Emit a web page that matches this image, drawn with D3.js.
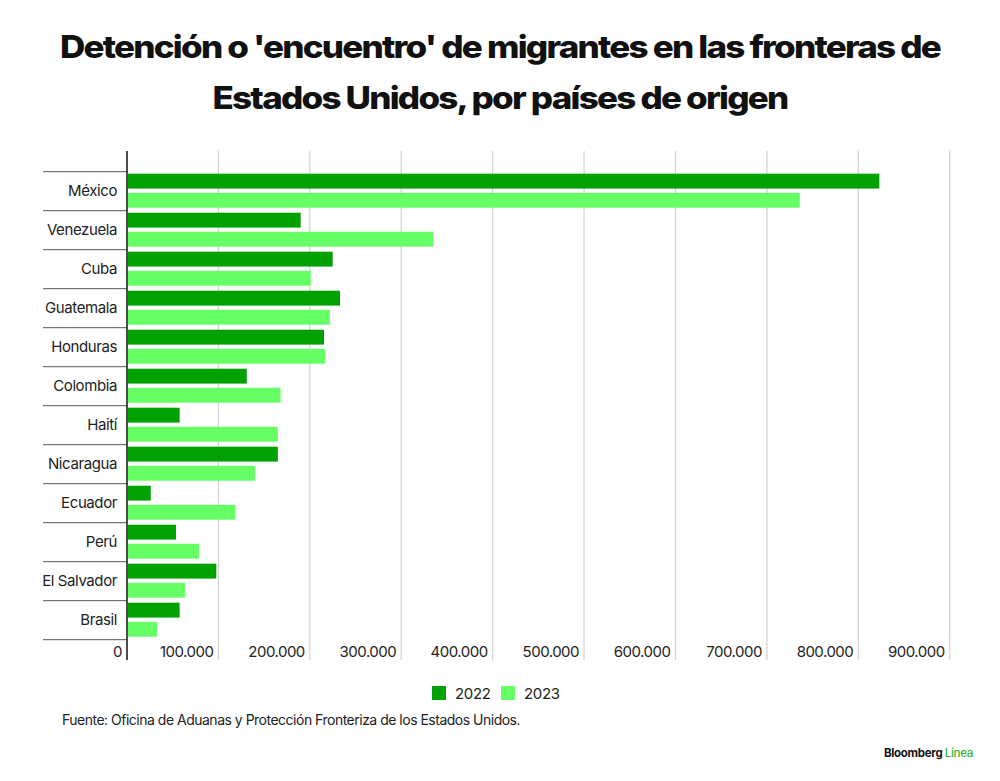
<!DOCTYPE html>
<html><head><meta charset="utf-8">
<script src="https://cdn.jsdelivr.net/npm/d3@7"></script>
<style>
html,body{margin:0;padding:0;background:#fff;}
svg{display:block;font-family:Inter,"Liberation Sans",sans-serif;}
</style></head>
<body>
<svg id="chart" width="1000" height="781"></svg>
<script>
const titleLines = ["Detención o 'encuentro' de migrantes en las fronteras de", "Estados Unidos, por países de origen"];
const categories = ["México","Venezuela","Cuba","Guatemala","Honduras","Colombia","Haití","Nicaragua","Ecuador","Perú","El Salvador","Brasil"];
const values2022 = [823000,190000,225000,233000,215500,131000,57600,165000,26000,53600,97700,57600];
const values2023 = [736000,335000,201000,222000,216600,168000,165000,140000,118500,78800,63500,32800];
const seriesNames = ["2022","2023"];
const tickValues = [0,100000,200000,300000,400000,500000,600000,700000,800000,900000];
const sourceText = "Fuente: Oficina de Aduanas y Protección Fronteriza de los Estados Unidos.";

const colors = ["#02a102","#66ff66"];
const svg = d3.select("#chart");

// title
svg.selectAll("text.title").data(titleLines).join("text")
  .attr("class","title")
  .attr("x",500).attr("y",(d,i)=>58+i*51)
  .attr("text-anchor","middle")
  .attr("font-size",31.5).attr("font-weight",800)
  .attr("letter-spacing","-1.6")
  .attr("fill","#111")
  .attr("textLength",(d,i)=>i===0?880:575)
  .attr("lengthAdjust","spacingAndGlyphs")
  .text(d=>d);

const x0 = 127;
const x = d3.scaleLinear().domain([0,900000]).range([x0, 949.7]);
const y = d3.scaleBand().domain(categories).range([171.7, 639.7]).paddingInner(0).paddingOuter(0);
const ySub = d3.scaleBand().domain(seriesNames).range([2, y.bandwidth()-3]).paddingInner(0.22);

// gridlines
svg.append("g").selectAll("line").data(tickValues.slice(1)).join("line")
  .attr("x1",d=>x(d)).attr("x2",d=>x(d))
  .attr("y1",151).attr("y2",660)
  .attr("stroke","#d4d4d4").attr("stroke-width",1.3);

// tick labels
svg.append("g").selectAll("text").data(tickValues).join("text")
  .attr("x",d=>x(d)-5).attr("y",657)
  .attr("text-anchor","end")
  .attr("font-size",15).attr("fill","#222")
  .attr("letter-spacing","-0.5")
  .text(d=>d3.format(",")(d).replace(/,/g,"."));

// category separators
const seps = categories.map(c=>y(c)).concat([y.range()[1]]);
svg.append("g").selectAll("line").data(seps).join("line")
  .attr("x1",43).attr("x2",x0)
  .attr("y1",d=>d).attr("y2",d=>d)
  .attr("stroke","#555").attr("stroke-width",1);

// category labels
svg.append("g").selectAll("text").data(categories).join("text")
  .attr("x",117).attr("y",d=>y(d)+y.bandwidth()/2+5)
  .attr("text-anchor","end")
  .attr("font-size",15).attr("fill","#222")
  .attr("letter-spacing","-0.4")
  .text(d=>d);

// bars
const rows = categories.map((c,i)=>({c, vals:[values2022[i], values2023[i]]}));
const g = svg.append("g").selectAll("g").data(rows).join("g")
  .attr("transform",d=>`translate(0,${y(d.c)})`);
g.selectAll("rect").data(d=>d.vals.map((v,j)=>({v,s:seriesNames[j],j}))).join("rect")
  .attr("x",x(0)+1).attr("y",d=>ySub(d.s))
  .attr("width",d=>x(d.v)-x(0)-1)
  .attr("height",ySub.bandwidth())
  .attr("fill",d=>colors[d.j]);

// axis line
svg.append("line").attr("x1",x0).attr("x2",x0).attr("y1",151).attr("y2",660)
  .attr("stroke","#111").attr("stroke-width",1.5);

// legend
const leg = svg.append("g").selectAll("g").data(seriesNames).join("g")
  .attr("transform",(d,i)=>`translate(${432+i*69},686)`);
leg.append("rect").attr("width",14).attr("height",14).attr("fill",(d,i)=>colors[i]);
leg.append("text").attr("x",23).attr("y",12.5).attr("font-size",15).attr("fill","#222")
  .attr("letter-spacing","-0.3").text(d=>d);

// source
svg.append("text").attr("x",62).attr("y",725).attr("font-size",14).attr("fill","#222")
  .attr("letter-spacing","-0.5").text(sourceText);

// brand
const brand = svg.append("text").attr("x",973).attr("y",757).attr("text-anchor","end")
  .attr("font-size",11.5).attr("font-weight",700).attr("letter-spacing","-0.3").attr("fill","#111");
brand.append("tspan").text("Bloomberg ");
brand.append("tspan").attr("fill","#33b233").attr("font-weight",500).text("Línea");
</script>
</body></html>
